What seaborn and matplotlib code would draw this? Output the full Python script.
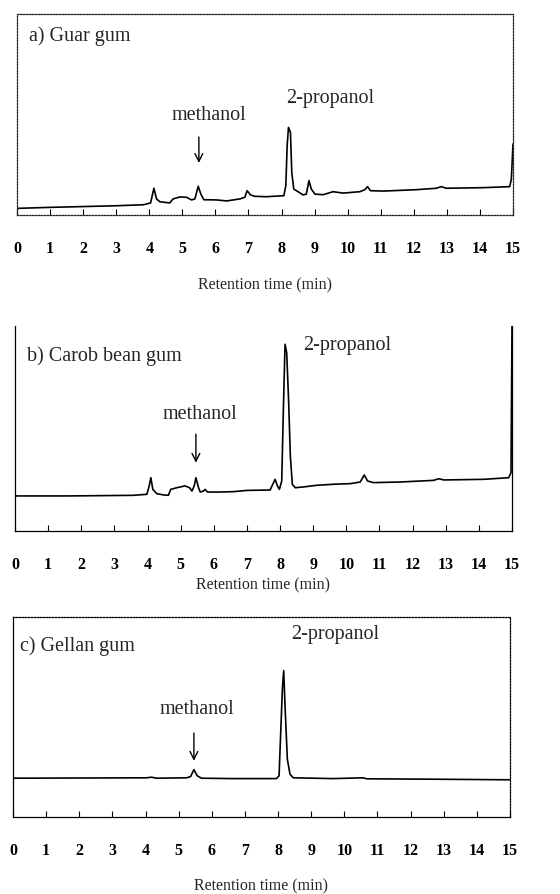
import matplotlib
matplotlib.use("Agg")
import matplotlib.pyplot as plt
import seaborn as sns
import pandas as pd

# ---- data (time in min, detector signal in % of panel height)
time_a = [0.00, 1.00, 3.01, 3.82, 4.04, 4.14, 4.22, 4.32, 4.62, 4.72, 4.93, 5.13, 5.28, 5.38,
          5.48, 5.56, 5.65, 6.03, 6.34, 6.74, 6.89, 6.96, 7.06, 7.19, 7.54, 8.07, 8.13, 8.17,
          8.21, 8.27, 8.31, 8.37, 8.50, 8.65, 8.75, 8.83, 8.90, 9.01, 9.26, 9.56, 9.86, 10.37,
          10.52, 10.60, 10.69, 11.07, 12.08, 12.68, 12.83, 12.98, 14.09, 14.90, 14.95, 15.00]
signal_a = [3.3, 3.8, 4.6, 5.1, 6.0, 13.3, 8.0, 6.6, 6.0, 8.0, 9.0, 8.8, 7.5, 8.0,
            14.3, 10.4, 7.6, 7.5, 7.0, 8.0, 8.8, 12.1, 10.0, 9.3, 9.1, 9.6, 14.6, 34.5,
            43.6, 41.1, 21.2, 12.9, 11.6, 10.0, 10.4, 17.1, 12.9, 10.4, 10.1, 11.6, 10.9, 11.6,
            12.6, 14.1, 12.1, 11.9, 12.6, 13.3, 14.1, 13.3, 13.6, 14.1, 17.9, 35.3]

time_b = [0.00, 1.56, 3.57, 3.98, 4.05, 4.10, 4.16, 4.28, 4.48, 4.63, 4.70, 4.88, 5.13, 5.27,
          5.34, 5.41, 5.46, 5.54, 5.59, 5.69, 5.74, 5.81, 6.19, 6.59, 7.00, 7.70, 7.78, 7.85,
          7.92, 7.98, 8.05, 8.10, 8.15, 8.20, 8.26, 8.31, 8.37, 8.46, 8.71, 9.11, 9.61, 10.12,
          10.42, 10.54, 10.64, 10.82, 11.63, 12.63, 12.79, 12.94, 14.14, 14.90, 14.97, 15.00]
signal_b = [17.1, 17.1, 17.4, 17.9, 22.0, 26.0, 20.3, 18.2, 17.6, 17.4, 20.3, 21.1, 22.0, 21.1,
            19.5, 22.0, 26.0, 21.1, 19.0, 19.5, 20.3, 19.0, 19.0, 19.2, 19.8, 20.0, 22.8, 25.2,
            22.0, 20.3, 24.4, 59.3, 91.1, 87.0, 62.6, 36.6, 22.8, 21.1, 21.5, 22.3, 22.8, 23.1,
            23.9, 27.3, 24.4, 23.6, 23.9, 24.7, 25.5, 24.9, 25.2, 26.0, 28.5, 100.0]

time_c = [0.00, 4.03, 4.18, 4.33, 5.24, 5.36, 5.46, 5.56, 5.69, 6.64, 7.95, 8.03, 8.08, 8.13,
          8.17, 8.21, 8.28, 8.36, 8.46, 9.66, 10.57, 10.67, 12.69, 15.00]
signal_c = [19.4, 19.6, 19.9, 19.4, 19.6, 20.2, 23.7, 20.6, 19.4, 19.2, 19.2, 20.6, 42.3, 64.0,
            73.2, 55.7, 28.9, 21.4, 19.6, 19.2, 19.6, 19.1, 18.9, 18.6]

panel_titles = ["a) Guar gum", "b) Carob bean gum", "c) Gellan gum"]
tick_values = list(range(16))
tick_labels = [str(v) for v in tick_values]
x_label = "Retention time (min)"
peak_names = ["methanol", "2-propanol"]

# annotation layout per panel: (title xy, methanol text xy, arrow x/tail/head, 2-propanol xy)
layout = [
    dict(title=(0.36, 89.6), meth=(5.8, 50.2), arrow=(5.5, 38.8, 25.9), prop=(9.47, 58.7)),
    dict(title=(0.35, 85.7), meth=(5.59, 57.4), arrow=(5.46, 47.2, 33.3), prop=(10.02, 91.0)),
    dict(title=(0.22, 86.1), meth=(5.56, 54.0), arrow=(5.46, 42.0, 28.1), prop=(9.71, 91.6)),
]
axes_rects = [
    [17 / 560, 1 - 216 / 895, 496 / 560, 201 / 895],
    [15 / 560, 1 - 532 / 895, 497 / 560, 205 / 895],
    [13 / 560, 1 - 818 / 895, 497 / 560, 200 / 895],
]
xlabel_pads = [15, 3.5, 14]

sns.set_style("white")
plt.rcParams["font.family"] = ["Liberation Serif", "DejaVu Serif"]

fig = plt.figure(figsize=(5.6, 8.95), dpi=100)
series = [(time_a, signal_a), (time_b, signal_b), (time_c, signal_c)]
dotted = (0, (1.2, 1.2))

for i, ((t, s), rect, lay, title) in enumerate(zip(series, axes_rects, layout, panel_titles)):
    ax = fig.add_axes(rect)
    df = pd.DataFrame({"time": t, "signal": s})
    sns.lineplot(data=df, x="time", y="signal", ax=ax, color="black", linewidth=1.2,
                 estimator=None, sort=False)
    ax.set_xlim(0, 15)
    ax.set_ylim(0, 100)
    ax.set_yticks([])
    ax.set_ylabel("")
    ax.set_xticks(tick_values)
    ax.set_xticklabels(tick_labels, fontsize=11.5, fontweight="bold")
    ax.tick_params(axis="x", direction="in", length=4, width=0.8, pad=18, bottom=True,
                   colors="black")
    ax.set_xlabel(x_label, fontsize=11.5, labelpad=xlabel_pads[i])

    for sp in ax.spines.values():
        sp.set_color("black")
        sp.set_linewidth(0.9)
    if i == 0:
        for name in ["top", "right", "bottom", "left"]:
            ax.spines[name].set_linestyle(dotted)
            ax.spines[name].set_color("#222222")
    elif i == 1:
        ax.spines["top"].set_visible(False)
    else:
        ax.spines["top"].set_linestyle(dotted)
        ax.spines["right"].set_linestyle(dotted)

    ax.text(lay["title"][0], lay["title"][1], title, fontsize=14.5, ha="left", va="center")
    ax.text(lay["meth"][0], lay["meth"][1], peak_names[0], fontsize=14.5, ha="center",
            va="center")
    ax.text(lay["prop"][0], lay["prop"][1], peak_names[1], fontsize=14.5, ha="center",
            va="center")
    ax_x, y_tail, y_head = lay["arrow"]
    ax.annotate("", xy=(ax_x, y_head), xytext=(ax_x, y_tail),
                arrowprops=dict(arrowstyle="->", color="black", lw=1.0,
                                mutation_scale=14, shrinkA=0, shrinkB=0))

fig.savefig("out.png", dpi=100)
